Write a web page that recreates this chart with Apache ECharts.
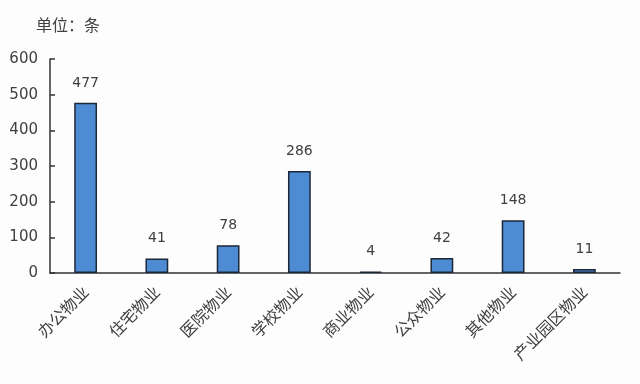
<!DOCTYPE html>
<html><head><meta charset="utf-8">
<script src="https://cdn.jsdelivr.net/npm/echarts@6/dist/echarts.min.js"></script>
<style>html,body{margin:0;padding:0;background:#fdfdfe}#c{width:640px;height:384px}</style>
</head><body><div id="c"></div>
<script>
const categories = ['办公物业','住宅物业','医院物业','学校物业','商业物业','公众物业','其他物业','产业园区物业'];
const values = [477, 41, 78, 286, 4, 42, 148, 11];
const yTicks = [0, 100, 200, 300, 400, 500, 600];
const unitTitle = '单位：条';

const chart = echarts.init(document.getElementById('c'));
const txt = '#404040';
chart.setOption({
  backgroundColor: '#fdfdfe',
  animation: false,
  title: { text: unitTitle, left: 31, top: 12, textStyle: { fontSize: 16, fontWeight: 'normal', color: txt, fontFamily: 'Noto Sans CJK SC' } },
  grid: { left: 50, right: 20, top: 59, bottom: 111 },
  xAxis: {
    type: 'category', data: categories,
    axisLine: { lineStyle: { color: '#333', width: 1.5 } },
    axisTick: { inside: true, length: 6, lineStyle: { color: '#333', width: 1.5 } },
    axisLabel: { rotate: 45, fontSize: 16, color: txt, margin: 16, interval: 0, fontFamily: 'Noto Sans CJK SC' }
  },
  yAxis: {
    type: 'value', min: yTicks[0], max: yTicks[yTicks.length - 1], interval: 100,
    splitLine: { show: false },
    axisLine: { show: true, lineStyle: { color: '#333', width: 1.5 } },
    axisTick: { show: true, inside: true, length: 5, lineStyle: { color: '#333', width: 1.5 } },
    axisLabel: { fontSize: 15, color: txt, margin: 12, fontFamily: 'DejaVu Sans' }
  },
  series: [{
    type: 'bar', data: values, barWidth: '32%',
    itemStyle: { color: '#4d8bd2', borderColor: '#1c2838', borderWidth: 1.5 },
    label: { show: true, position: 'top', distance: 13, fontSize: 14, color: txt, fontFamily: 'DejaVu Sans' }
  }]
});
</script></body></html>
